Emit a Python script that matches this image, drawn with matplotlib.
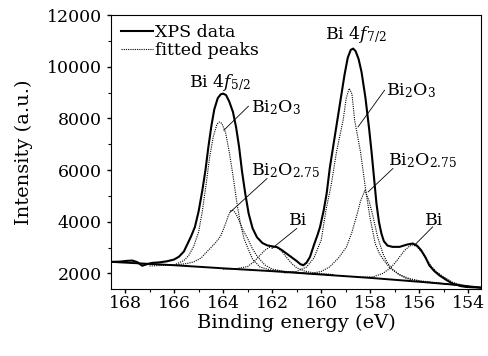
import matplotlib
matplotlib.use("Agg")
import matplotlib.pyplot as plt
from matplotlib.ticker import MultipleLocator

plt.rcParams["font.family"] = ["DejaVu Serif"]
plt.rcParams["mathtext.fontset"] = "dejavuserif"
plt.rcParams["font.size"] = 12

# measured XPS spectrum (binding energy eV, counts)
xps_e = [168.57, 168.2, 167.9, 167.7, 167.5, 167.3, 167.1, 166.9, 166.6, 166.3,
         166.0, 165.8, 165.6, 165.45, 165.3, 165.15, 165.0, 164.85, 164.72, 164.6,
         164.48, 164.36, 164.22, 164.1, 164.0, 163.88, 163.75, 163.6, 163.47, 163.35,
         163.23, 163.1, 162.96, 162.8, 162.62, 162.4, 162.21, 162.0, 161.8, 161.6,
         161.4, 161.2, 161.0, 160.85, 160.73, 160.6, 160.46, 160.3, 160.15, 160.05,
         159.9, 159.78, 159.65, 159.5, 159.35, 159.2, 159.05, 158.92, 158.8, 158.7,
         158.6, 158.48, 158.36, 158.2, 158.05, 157.95, 157.85, 157.75, 157.65, 157.55,
         157.45, 157.3, 157.1, 156.81, 156.5, 156.27, 156.1, 155.93, 155.75, 155.6,
         155.4, 155.19, 154.9, 154.65, 154.3, 154.1, 153.8, 153.49]
xps_i = [2450, 2460, 2490, 2500, 2440, 2300, 2360, 2410, 2430, 2470,
         2540, 2650, 2850, 3150, 3450, 3800, 4400, 5200, 6000, 6900,
         7700, 8350, 8780, 8930, 8960, 8900, 8650, 8250, 7650, 6900,
         5950, 5100, 4320, 3750, 3400, 3180, 3090, 3050, 3020, 2900,
         2760, 2620, 2480, 2360, 2320, 2420, 2640, 3100, 3500, 3800,
         4450, 5100, 6100, 7000, 7900, 8800, 9700, 10350, 10650, 10700,
         10600, 10300, 9800, 8800, 7600, 6700, 5700, 4700, 4000, 3550,
         3250, 3080, 3030, 3030, 3120, 3160, 3080, 2900, 2620, 2320,
         2100, 1930, 1750, 1610, 1510, 1480, 1465, 1455]

# background line
bg_e = [168.57, 166.0, 164.0, 162.0, 160.0, 158.0, 156.0, 154.5, 153.49]
bg_i = [2450, 2320, 2200, 2090, 1960, 1830, 1680, 1560, 1450]

# fitted components
bi2o3_52_e = [167.0, 166.0, 165.6, 165.4, 165.2, 165.0, 164.85, 164.7, 164.55, 164.4,
              164.25, 164.15, 164.05, 163.9, 163.75, 163.6, 163.45, 163.3, 163.15, 163.0,
              162.8, 162.5, 162.0, 161.0, 160.0]
bi2o3_52_i = [2290, 2330, 2500, 2700, 3050, 3600, 4400, 5400, 6500, 7300,
              7780, 7860, 7800, 7450, 6700, 5800, 4800, 3950, 3350, 3000,
              2550, 2250, 2120, 2040, 1970]

bi2o275_52_e = [166.0, 165.5, 165.19, 164.9, 164.7, 164.5, 164.3, 164.1, 163.95, 163.8,
                163.7, 163.62, 163.5, 163.35, 163.2, 163.0, 162.8, 162.6, 162.3, 162.0,
                161.5, 160.5]
bi2o275_52_i = [2330, 2380, 2450, 2600, 2800, 3000, 3200, 3450, 3800, 4200,
                4420, 4450, 4350, 4050, 3700, 3350, 2950, 2650, 2330, 2170,
                2080, 2000]

bi_52_e = [164.0, 163.5, 163.0, 162.75, 162.5, 162.3, 162.1, 161.98, 161.8, 161.6,
           161.4, 161.2, 161.0, 160.7, 160.3, 159.5]
bi_52_i = [2170, 2180, 2270, 2450, 2700, 2900, 3020, 3050, 3000, 2850,
           2600, 2380, 2220, 2100, 2020, 1960]

bi2o3_72_e = [161.5, 161.0, 160.6, 160.3, 160.0, 159.8, 159.6, 159.38, 159.11, 158.98,
              158.86, 158.75, 158.64, 158.4, 158.2, 158.02, 157.8, 157.62, 157.4, 157.21,
              156.9, 156.54, 156.0, 155.0, 154.0]
bi2o3_72_i = [2020, 2080, 2250, 2600, 3300, 4500, 5400, 6700, 7930, 8800,
              9160, 8950, 7930, 6700, 5300, 4190, 3150, 2750, 2450, 2220,
              2000, 1810, 1700, 1600, 1500]

bi2o275_72_e = [161.0, 160.5, 160.0, 159.65, 159.3, 158.97, 158.75, 158.57, 158.4, 158.22,
                158.05, 157.89, 157.7, 157.48, 157.3, 157.08, 156.8, 156.4, 156.0, 155.0, 154.0]
bi2o275_72_i = [2040, 1990, 2080, 2260, 2600, 3030, 3600, 4190, 4800, 5220,
                4800, 4200, 3400, 2750, 2400, 2150, 1950, 1800, 1720, 1610, 1500]

bi_72_e = [158.5, 157.89, 157.5, 157.21, 157.0, 156.81, 156.6, 156.4, 156.27, 156.1,
           155.93, 155.73, 155.5, 155.32, 155.0, 154.65, 154.3, 154.0, 153.49]
bi_72_i = [1850, 1870, 2000, 2190, 2400, 2640, 2900, 3060, 3100, 3040,
           2850, 2580, 2260, 2080, 1860, 1660, 1560, 1500, 1450]

peaks = [(bi2o3_52_e, bi2o3_52_i), (bi2o275_52_e, bi2o275_52_i), (bi_52_e, bi_52_i),
         (bi2o3_72_e, bi2o3_72_i), (bi2o275_72_e, bi2o275_72_i), (bi_72_e, bi_72_i)]

fig = plt.figure(figsize=(4.88, 3.56), dpi=100)
ax = fig.add_axes([111 / 488, 1 - 289 / 356, 370 / 488, 274 / 356])

dot = (0, (1, 1))
ax.plot(xps_e, xps_i, color="black", lw=1.5, label="XPS data")
ax.plot(bg_e, bg_i, color="black", lw=1.4)
for i, (e, v) in enumerate(peaks):
    ax.plot(e, v, color="black", lw=0.8, linestyle=dot,
            label="fitted peaks" if i == 0 else None)

ax.set_xlim(168.57, 153.49)
ax.set_ylim(1400, 12000)
ax.xaxis.set_major_locator(MultipleLocator(2))
ax.xaxis.set_minor_locator(MultipleLocator(1))
ax.yaxis.set_major_locator(MultipleLocator(2000))
ax.yaxis.set_minor_locator(MultipleLocator(1000))
ax.tick_params(which="major", direction="out", length=3, width=1, labelsize=12.5)
ax.tick_params(which="minor", direction="out", length=2.5, width=0.8)
ax.tick_params(axis="x", pad=1.5)
ax.set_xlabel("Binding energy (eV)", fontsize=14, labelpad=1)
ax.set_ylabel("Intensity (a.u.)", fontsize=14, labelpad=10)

# peak labels + leader lines
txt = dict(fontsize=12.5, va="baseline", ha="left")
ax.text(165.40, 9206, r"Bi 4$f_{5/2}$", **txt)
ax.text(159.85, 11090, r"Bi 4$f_{7/2}$", **txt)
ax.text(162.85, 8240, r"Bi$_2$O$_3$", **txt)
ax.text(157.35, 8897, r"Bi$_2$O$_3$", **txt)
ax.text(162.85, 5800, r"Bi$_2$O$_{2.75}$", **txt)
ax.text(157.28, 6189, r"Bi$_2$O$_{2.75}$", **txt)
ax.text(161.31, 3868, "Bi", **txt)
ax.text(155.79, 3868, "Bi", **txt)

leaders = [((162.97, 8470), (163.97, 7543)),
           ((157.42, 9090), (158.50, 7671)),
           ((162.21, 5675), (163.70, 4383)),
           ((157.08, 6061), (158.09, 5156)),
           ((161.00, 3741), (162.01, 2967)),
           ((155.46, 3803), (156.20, 3095))]
for (x0, y0), (x1, y1) in leaders:
    ax.plot([x0, x1], [y0, y1], color="black", lw=0.6)

ax.legend(loc="upper left", frameon=False, fontsize=12.5, handlelength=1.8,
          handletextpad=0.15, labelspacing=0.05, borderaxespad=0.2,
          bbox_to_anchor=(0.0, 1.005))

fig.savefig("out.png", dpi=100)
